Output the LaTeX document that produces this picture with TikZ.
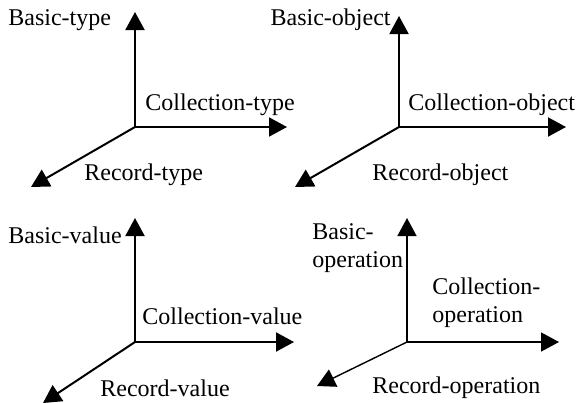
\documentclass[tikz,border=0pt]{standalone}
\usepackage{fontspec}
\setmainfont{Liberation Serif}
\usetikzlibrary{arrows.meta,positioning}

\begin{document}
\begin{tikzpicture}[x=0.5pt,y=-0.5pt,font=\fontsize{12}{14}\selectfont,
    axis/.style={line width=1pt,-{Triangle[length=9pt,width=9.5pt]}},
    thinaxis/.style={line width=0.7pt,-{Triangle[length=9pt,width=9.5pt]}},
    lbl/.style={inner sep=0pt,align=left}]
  \useasboundingbox (0,0) rectangle (576,402);

  % type
  \coordinate (o1) at (135,127);
  \coordinate (b1) at (135,12);
  \coordinate (c1) at (287,127);
  \coordinate (r1) at (31,187);
  \draw[axis] (o1) -- (b1);
  \draw[axis] (o1) -- (c1);
  \draw[axis] (o1) -- (r1);
  \node[lbl,anchor=west] (bt) at (8,20) {Basic-type};
  \node[lbl,anchor=west] (ct) at (145,105) {Collection-type};
  \node[lbl,anchor=west] (rt) at (84,175) {Record-type};

  % object
  \coordinate (o2) at (399,127);
  \coordinate (b2) at (399,16);
  \coordinate (c2) at (566,127);
  \coordinate (r2) at (295,187);
  \draw[axis] (o2) -- (b2);
  \draw[axis] (o2) -- (c2);
  \draw[axis] (o2) -- (r2);
  \node[lbl,anchor=east] (bo) at (391,20) {Basic-object};
  \node[lbl,anchor=west] (co) at (408,105) {Collection-object};
  \node[lbl,anchor=west] (ro) at (372,175) {Record-object};

  % value
  \coordinate (o3) at (135,342);
  \coordinate (b3) at (135,218);
  \coordinate (c3) at (294,342);
  \coordinate (r3) at (43,403);
  \draw[axis] (o3) -- (b3);
  \draw[axis] (o3) -- (c3);
  \draw[axis] (o3) -- (r3);
  \node[lbl,anchor=west] (bv) at (8,235) {Basic-value};
  \node[lbl,anchor=west] (cv) at (142,316) {Collection-value};
  \node[lbl,anchor=west] (rv) at (100,388) {Record-value};

  % operation
  \coordinate (o4) at (407,342);
  \coordinate (b4) at (407,218);
  \coordinate (c4) at (559,342);
  \coordinate (r4) at (317,386);
  \draw[thinaxis] (o4) -- (b4);
  \draw[thinaxis] (o4) -- (c4);
  \draw[thinaxis] (o4) -- (r4);
  \node[lbl,anchor=west] (bp) at (312,248) {Basic-\\operation};
  \node[lbl,anchor=west] (cp) at (432,303) {Collection-\\operation};
  \node[lbl,anchor=west] (rp) at (372,388) {Record-operation};
\end{tikzpicture}
\end{document}
